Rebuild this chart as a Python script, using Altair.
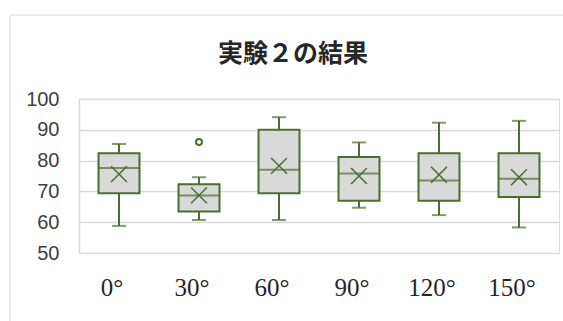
import altair as alt
import pandas as pd

cats = ["0°", "30°", "60°", "90°", "120°", "150°"]
wmin = [58.8, 60.7, 60.7, 64.7, 62.3, 58.3]
q1 = [69.4, 63.5, 69.4, 67.0, 67.0, 68.2]
med = [77.6, 68.7, 77.0, 75.8, 73.5, 74.1]
q3 = [82.4, 72.3, 90.0, 81.2, 82.4, 82.4]
wmax = [85.4, 74.6, 94.1, 85.9, 92.3, 92.9]
mean = [75.6, 68.7, 78.3, 75.0, 75.4, 74.6]
out_cat = ["30°"]
out_val = [86.0]
yticks = [50, 60, 70, 80, 90, 100]

GREEN = "#4b6e2f"
GRID = "#d9d9d9"

df = pd.DataFrame({"cat": cats, "wmin": wmin, "q1": q1, "med": med,
                   "q3": q3, "wmax": wmax, "mean": mean})
dout = pd.DataFrame({"cat": out_cat, "v": out_val})

xaxis = alt.Axis(labelAngle=0, ticks=False, domain=False,
                 labelFont="Liberation Serif", labelFontSize=25,
                 labelColor="#262626", labelPadding=22, labelOffset=-7)
xscale = alt.Scale(paddingInner=0, paddingOuter=0)
yscale = alt.Scale(domain=[50, 100], nice=False, zero=False)
yaxis = alt.Axis(values=yticks, ticks=False, labelOverlap=False,
                 domain=True, domainColor=GRID, domainWidth=1.5,
                 gridColor=GRID, gridWidth=1.5,
                 labelFont="Liberation Sans", labelFontSize=20,
                 labelColor="#404040", labelPadding=20)


def X():
    return alt.X("cat:N", sort=cats, title=None, scale=xscale, axis=xaxis)


def Y(field):
    return alt.Y(field, scale=yscale, axis=yaxis, title=None)


base = alt.Chart(df).encode(x=X())

whisk_hi = base.mark_rule(color=GREEN, strokeWidth=2).encode(y=Y("q3:Q"), y2="wmax:Q")
whisk_lo = base.mark_rule(color=GREEN, strokeWidth=2).encode(y=Y("wmin:Q"), y2="q1:Q")
cap_hi = base.mark_tick(color=GREEN, size=14, thickness=2, orient="horizontal").encode(y=Y("wmax:Q"))
cap_lo = base.mark_tick(color=GREEN, size=14, thickness=2, orient="horizontal").encode(y=Y("wmin:Q"))
box = base.mark_bar(size=41, fill="#d9d9d9", stroke=GREEN, strokeWidth=2).encode(
    y=Y("q1:Q"), y2="q3:Q")
median = base.mark_tick(color=GREEN, size=41, thickness=2, orient="horizontal").encode(y=Y("med:Q"))
meanm = base.mark_point(shape="M-1,-1L1,1M-1,1L1,-1", size=250, filled=False,
                        color=GREEN, strokeWidth=1.5, opacity=1).encode(y=Y("mean:Q"))
outl = alt.Chart(dout).mark_point(shape="circle", size=36, filled=False,
                                  color=GREEN, strokeWidth=2, opacity=1).encode(
    x=X(), y=Y("v:Q"))

frame_data = alt.Data(values=[{"a": 1}])
frame_left = alt.Chart(frame_data).mark_rule(color=GRID, strokeWidth=1).encode(
    x=alt.value(-69), y=alt.value(-84), y2=alt.value(240))
frame_top = alt.Chart(frame_data).mark_rule(color=GRID, strokeWidth=1).encode(
    x=alt.value(-69), x2=alt.value(500), y=alt.value(-84))

chart = alt.layer(frame_left, frame_top, whisk_hi, whisk_lo, cap_hi, cap_lo,
                  box, median, meanm, outl).properties(
    width=480, height=154,
    autosize=alt.AutoSizeParams(type="none"),
    padding={"left": 79, "top": 99, "right": 4, "bottom": 68},
    title=alt.TitleParams("実験２の結果", font="Noto Sans CJK JP", fontSize=25,
                          fontWeight="bold", color="#262626", offset=-52, dx=-26,
                          frame="group"),
).configure_view(stroke=None).configure(background="white")

chart.save("out.html", embed_options={"renderer": "svg", "actions": False})
